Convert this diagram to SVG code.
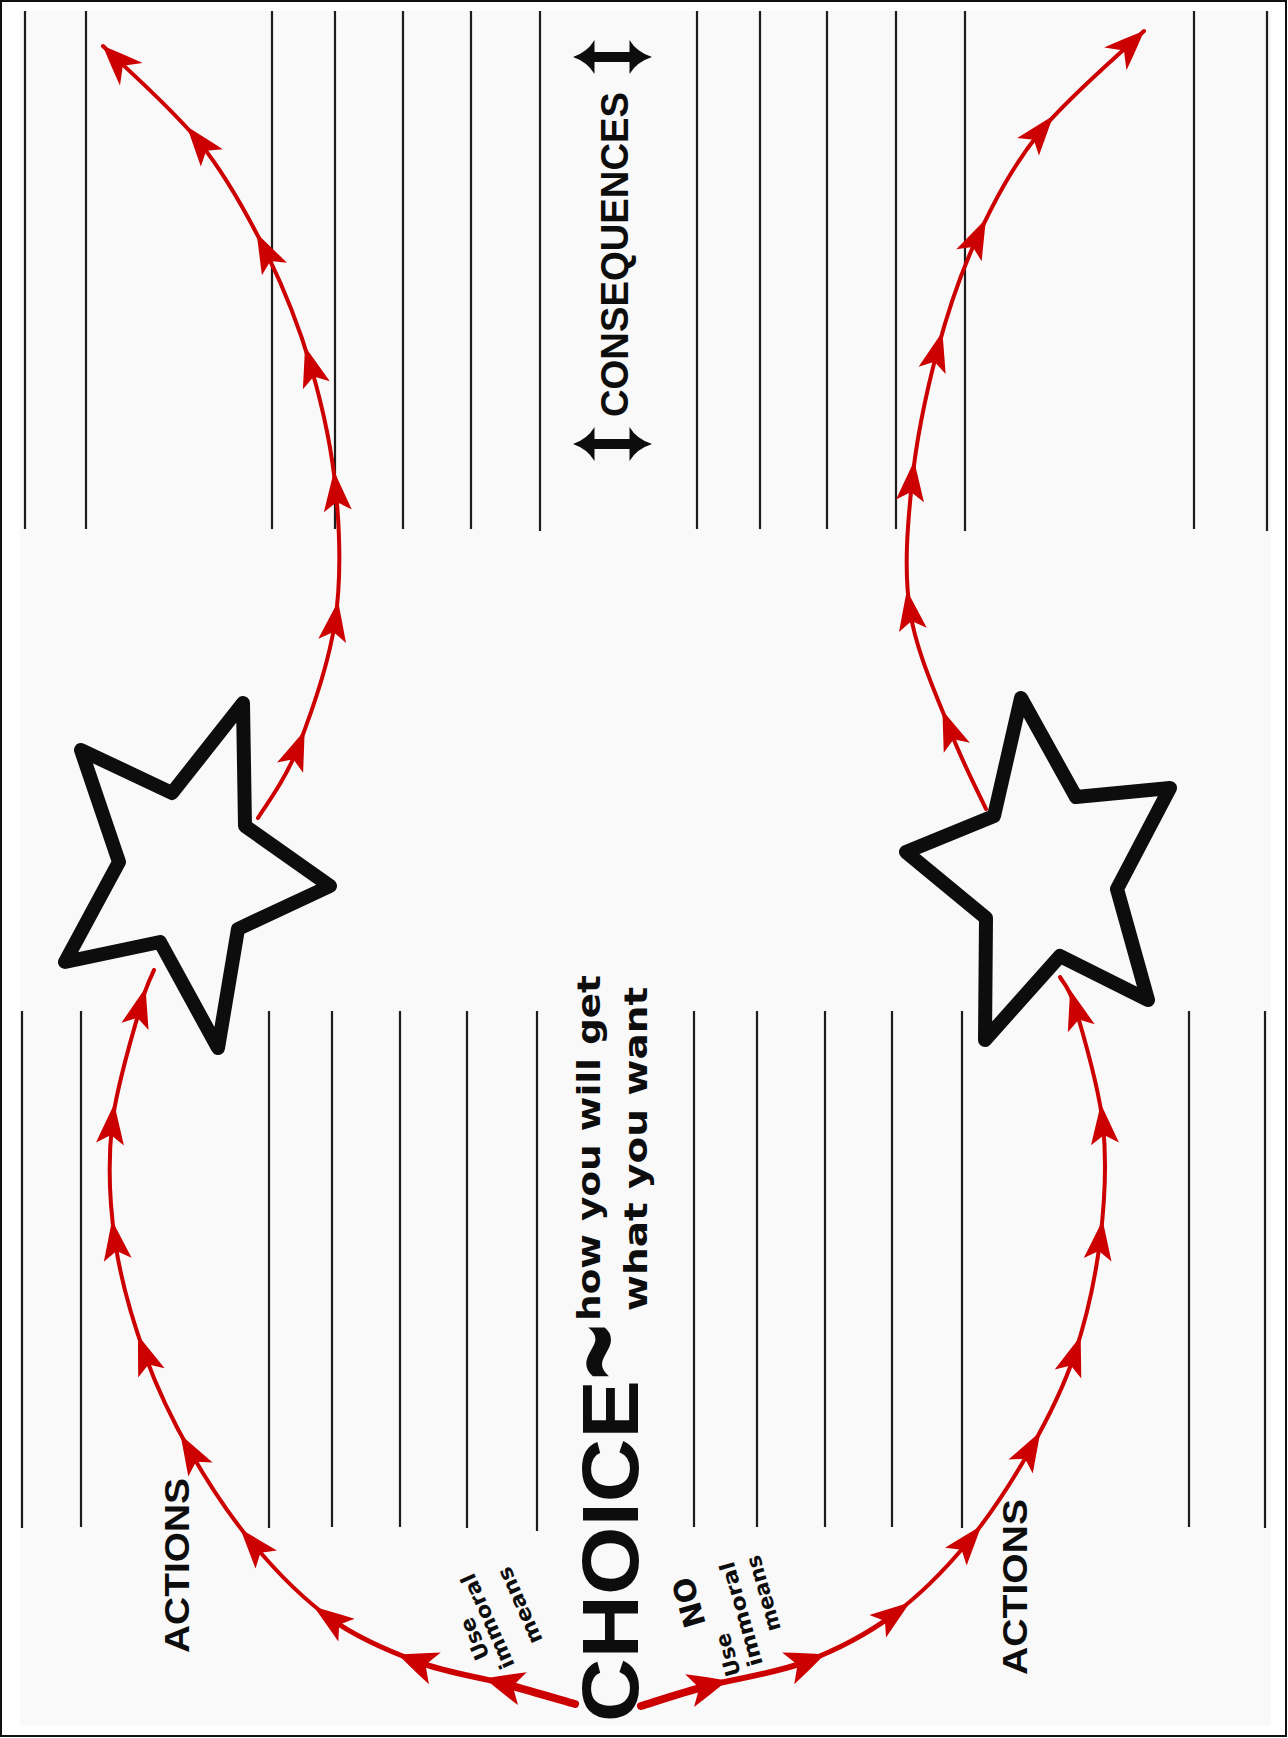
<svg xmlns="http://www.w3.org/2000/svg" width="1288" height="1738" viewBox="0 0 1288 1738">
<style>
.grid line{stroke:#1c1c1c;stroke-width:2.2}
.star{fill:#f9f9f9;stroke:#0d0d0d;stroke-width:14;stroke-linejoin:round}
.red{fill:none;stroke:#cc0000;stroke-linecap:round}
.ah{fill:#cc0000}
.t{font-family:"Liberation Sans",Arial,sans-serif;font-weight:bold;fill:#0d0d0d}
.d{font-family:"DejaVu Sans",Verdana,sans-serif;font-weight:bold;fill:#0d0d0d}
</style>
<defs>
<path id="ah" d="M21,0 Q4,-6 -19,-14 L-10,0 L-19,14 Q4,6 21,0 Z"/>
<path id="ahb" d="M21,0 Q4,-8 -18,-17 L-8,0 L-18,17 Q4,8 21,0 Z"/>
<path id="ahe" d="M0,0 Q-16,-7 -40,-16 L-28,0 L-40,16 Q-16,7 0,0 Z"/>
<path id="dbl" d="M-39.5,0 Q-25,-5 -18,-17 L-18,-5 L17,-5 L17,-17 Q24,-5 39.5,0 Q24,5 17,17 L17,5 L-18,5 L-18,17 Q-25,5 -39.5,0 Z"/>
</defs>
<g id="background">
<rect x="1" y="1" width="1285" height="1735" fill="#ffffff" stroke="#111111" stroke-width="2"/>
<rect x="20" y="11" width="1251" height="1714" fill="#f9f9f9"/>
</g>
<g id="grid" class="grid">
<line x1="25" y1="11" x2="25" y2="529"/>
<line x1="86" y1="11" x2="86" y2="529"/>
<line x1="272" y1="11" x2="272" y2="529"/>
<line x1="335" y1="11" x2="335" y2="529"/>
<line x1="403" y1="11" x2="403" y2="529"/>
<line x1="471" y1="11" x2="471" y2="529"/>
<line x1="540" y1="11" x2="540" y2="531"/>
<line x1="697" y1="11" x2="697" y2="529"/>
<line x1="760" y1="11" x2="760" y2="529"/>
<line x1="827" y1="11" x2="827" y2="529"/>
<line x1="896" y1="11" x2="896" y2="529"/>
<line x1="965" y1="11" x2="965" y2="531"/>
<line x1="1194" y1="11" x2="1194" y2="529"/>
<line x1="1267" y1="11" x2="1267" y2="531"/>
<line x1="22" y1="1011" x2="22" y2="1528"/>
<line x1="81" y1="1011" x2="81" y2="1527"/>
<line x1="269" y1="1011" x2="269" y2="1528"/>
<line x1="332" y1="1011" x2="332" y2="1527"/>
<line x1="400" y1="1011" x2="400" y2="1527"/>
<line x1="467" y1="1011" x2="467" y2="1528"/>
<line x1="537" y1="1011" x2="537" y2="1531"/>
<line x1="694" y1="1011" x2="694" y2="1527"/>
<line x1="757" y1="1011" x2="757" y2="1527"/>
<line x1="825" y1="1011" x2="825" y2="1527"/>
<line x1="892" y1="1011" x2="892" y2="1527"/>
<line x1="962" y1="1011" x2="962" y2="1528"/>
<line x1="1189" y1="1011" x2="1189" y2="1527"/>
<line x1="1265" y1="1011" x2="1265" y2="1528"/>
</g>
<g id="connectors">
<path class="red" stroke-width="8" d="M575,1704 C563.3,1700.7 531.2,1691 505,1684"/>
<path class="red" stroke-width="6" d="M505,1684 C478.8,1677 447,1672.8 418,1662"/>
<path class="red" stroke-width="5" d="M418,1662 C389,1651.2 358.3,1638.5 331,1619"/>
<path class="red" stroke-width="4" d="M331,1619 C303.7,1599.5 277.3,1572.7 254,1545 C230.7,1517.3 209.2,1484.7 191,1453 C172.8,1421.3 157.7,1390.3 145,1355 C132.3,1319.7 120.5,1279.3 115,1241 C109.5,1202.7 107.8,1163.8 112,1125 C116.2,1086.2 133,1033.8 140,1008 C147,982.2 151.7,976.3 154,970"/>
<path class="red" stroke-width="4" d="M258,818 C264.5,806.7 284.2,782.7 297,750 C309.8,717.3 328.5,665 335,622 C341.5,579 340,534.5 336,492 C332,449.5 322.7,407 311,367 C299.3,327 284.5,289.3 266,252 C247.5,214.7 227.2,177.3 200,143 C172.8,108.7 119.2,62.2 103,46"/>
<path class="red" stroke-width="4" d="M986,809 C980,795.8 962.7,763 950,730 C937.3,697 916.3,652.3 910,611 C903.7,569.7 907.5,525.2 912,482 C916.5,438.8 926.2,392.7 937,352 C947.8,311.3 959.8,274.7 977,238 C994.2,201.3 1012.2,166.5 1040,132 C1067.8,97.5 1126.7,47.8 1144,31"/>
<path class="red" stroke-width="8" d="M641,1706 C652,1702.7 679.7,1693.3 707,1686"/>
<path class="red" stroke-width="6" d="M707,1686 C734.3,1678.7 774,1673.8 805,1662"/>
<path class="red" stroke-width="5" d="M805,1662 C836,1650.2 865.8,1635 893,1615"/>
<path class="red" stroke-width="4" d="M893,1615 C920.2,1595 945.2,1569.5 968,1542 C990.8,1514.5 1012.3,1481 1030,1450 C1047.7,1419 1062.3,1390.8 1074,1356 C1085.7,1321.2 1095.2,1279.5 1100,1241 C1104.8,1202.5 1107,1163.5 1103,1125 C1099,1086.5 1083.2,1034.7 1076,1010 C1068.8,985.3 1062.7,982.5 1060,977"/>
<g class="ah">
<use href="#ahb" transform="translate(505,1684) rotate(-165)"/>
<use href="#ahb" transform="translate(418,1662) rotate(-159.5)"/>
<use href="#ah" transform="translate(331,1619) rotate(-144.5)"/>
<use href="#ah" transform="translate(254,1545) rotate(-130.1)"/>
<use href="#ah" transform="translate(191,1453) rotate(-119.8)"/>
<use href="#ah" transform="translate(145,1355) rotate(-109.7)"/>
<use href="#ah" transform="translate(115,1241) rotate(-98.2)"/>
<use href="#ah" transform="translate(112,1125) rotate(-83.9)"/>
<use href="#ah" transform="translate(140,1008) rotate(-74.8)"/>
<use href="#ah" transform="translate(297,750) rotate(-68.6)"/>
<use href="#ah" transform="translate(335,622) rotate(-81.4)"/>
<use href="#ah" transform="translate(336,492) rotate(-95.4)"/>
<use href="#ah" transform="translate(311,367) rotate(-106.3)"/>
<use href="#ah" transform="translate(266,252) rotate(-116.4)"/>
<use href="#ah" transform="translate(200,143) rotate(-128.4)"/>
<use href="#ahe" transform="translate(103,46) rotate(-135)"/>
<use href="#ah" transform="translate(950,730) rotate(-111)"/>
<use href="#ah" transform="translate(910,611) rotate(-98.7)"/>
<use href="#ah" transform="translate(912,482) rotate(-84)"/>
<use href="#ah" transform="translate(937,352) rotate(-75.1)"/>
<use href="#ah" transform="translate(977,238) rotate(-64.9)"/>
<use href="#ah" transform="translate(1040,132) rotate(-51.1)"/>
<use href="#ahe" transform="translate(1144,31) rotate(-44.2)"/>
<use href="#ahb" transform="translate(707,1686) rotate(-15)"/>
<use href="#ahb" transform="translate(805,1662) rotate(-20.9)"/>
<use href="#ah" transform="translate(893,1615) rotate(-36.4)"/>
<use href="#ah" transform="translate(968,1542) rotate(-50.3)"/>
<use href="#ah" transform="translate(1030,1450) rotate(-60.3)"/>
<use href="#ah" transform="translate(1074,1356) rotate(-71.5)"/>
<use href="#ah" transform="translate(1100,1241) rotate(-82.8)"/>
<use href="#ah" transform="translate(1103,1125) rotate(-95.9)"/>
<use href="#ah" transform="translate(1076,1010) rotate(-106.2)"/>
</g>
</g>
<g id="star-left">
<polygon class="star" points="243,703 245,826 330,886 238,929 218,1048 160,942 65,962 119,862 81,750 172,793"/>
</g>
<g id="star-right">
<polygon class="star" points="1021,698 1076,797 1170,788 1117,889 1148,1000 1060,956 985,1040 986,918 906,852 994,816"/>
</g>
<g id="consequences">
<use href="#dbl" fill="#0d0d0d" transform="translate(612.5,57)"/>
<use href="#dbl" fill="#0d0d0d" transform="translate(612.5,444)"/>
<text class="t" font-size="39" textLength="325" lengthAdjust="spacingAndGlyphs" transform="translate(628,417) rotate(-90)">CONSEQUENCES</text>
</g>
<g id="choice">
<text class="t" font-size="80" textLength="342" lengthAdjust="spacingAndGlyphs" transform="translate(638,1722) rotate(-90)">CHOICE</text>
<text class="t" font-size="96" transform="translate(650,1380) rotate(-90) scale(1,1.6)">~</text>
<text class="d" font-size="32" textLength="346" lengthAdjust="spacingAndGlyphs" transform="translate(600,1321) rotate(-90)">how you will get</text>
<text class="d" font-size="32" textLength="324" lengthAdjust="spacingAndGlyphs" transform="translate(647,1311) rotate(-90)">what you want</text>
</g>
<g id="actions-left">
<text class="t" font-size="35" textLength="175" lengthAdjust="spacingAndGlyphs" transform="translate(189,1653) rotate(-90)">ACTIONS</text>
</g>
<g id="actions-right">
<text class="t" font-size="35" textLength="176" lengthAdjust="spacingAndGlyphs" transform="translate(1027,1675) rotate(-90)">ACTIONS</text>
</g>
<g id="label-left">
<text class="d" font-size="21" transform="translate(490,1656) rotate(-114)">Use</text>
<text class="d" font-size="21" textLength="102" lengthAdjust="spacingAndGlyphs" transform="translate(515,1665) rotate(-114)">immoral</text>
<text class="d" font-size="21" textLength="82" lengthAdjust="spacingAndGlyphs" transform="translate(543,1640) rotate(-114)">means</text>
</g>
<g id="label-right">
<text class="d" font-size="21" transform="translate(741,1674) rotate(-106)">Use</text>
<text class="d" font-size="30" transform="translate(706,1624) rotate(-106)">NO</text>
<text class="d" font-size="21" textLength="108" lengthAdjust="spacingAndGlyphs" transform="translate(763,1664) rotate(-106)">immoral</text>
<text class="d" font-size="21" textLength="78" lengthAdjust="spacingAndGlyphs" transform="translate(781,1629) rotate(-106)">means</text>
</g>
</svg>
